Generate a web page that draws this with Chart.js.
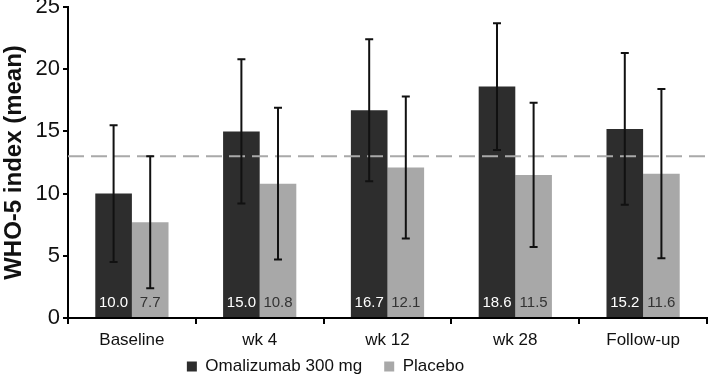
<!DOCTYPE html>
<html>
<head>
<meta charset="utf-8">
<script src="https://cdn.jsdelivr.net/npm/chart.js@4.4.0/dist/chart.umd.min.js"></script>
<style>
  html, body { margin: 0; padding: 0; background: #fff; }
</style>
</head>
<body>
<canvas id="chart" width="709" height="380"></canvas>
<script>
// values
const categories = ['Baseline', 'wk 4', 'wk 12', 'wk 28', 'Follow-up'];
const omalizumab = [10.0, 15.0, 16.7, 18.6, 15.2];
const placebo = [7.7, 10.8, 12.1, 11.5, 11.6];
const omalizumabSD = [5.5, 5.8, 5.7, 5.1, 6.1];
const placeboSD = [5.3, 6.1, 5.7, 5.8, 6.8];
const cutoff = 13;
const yTicks = [0, 5, 10, 15, 20, 25];

const FONT = '"Liberation Sans", Arial, sans-serif';
Chart.defaults.font.family = FONT;

// dashed cut-off line, error bars and value labels
const extras = {
  id: 'extras',
  afterDatasetsDraw(chart) {
    const ctx = chart.ctx;
    const y = chart.scales.y;
    const area = chart.chartArea;

    // reference line
    ctx.save();
    ctx.strokeStyle = '#a9a9a9';
    ctx.lineWidth = 2;
    ctx.setLineDash([16, 7]);
    ctx.beginPath();
    ctx.moveTo(area.left, y.getPixelForValue(cutoff));
    ctx.lineTo(area.right, y.getPixelForValue(cutoff));
    ctx.stroke();
    ctx.restore();

    const errs = [omalizumabSD, placeboSD];
    const labelColors = ['#ffffff', '#333333'];
    chart.data.datasets.forEach((ds, i) => {
      const meta = chart.getDatasetMeta(i);
      meta.data.forEach((bar, j) => {
        const v = ds.data[j];
        const top = y.getPixelForValue(v + errs[i][j]);
        const bot = y.getPixelForValue(v - errs[i][j]);
        ctx.save();
        ctx.strokeStyle = '#111';
        ctx.lineWidth = 2;
        ctx.beginPath();
        ctx.moveTo(bar.x, top); ctx.lineTo(bar.x, bot);
        ctx.moveTo(bar.x - 4, top); ctx.lineTo(bar.x + 4, top);
        ctx.moveTo(bar.x - 4, bot); ctx.lineTo(bar.x + 4, bot);
        ctx.stroke();
        ctx.fillStyle = labelColors[i];
        ctx.font = '15px ' + FONT;
        ctx.textAlign = 'center';
        ctx.textBaseline = 'middle';
        ctx.fillText(v.toFixed(1), bar.x, y.getPixelForValue(0) - 15);
        ctx.restore();
      });
    });
  }
};

// legend sits left of centre and a bit higher in the figure
const legendShift = {
  id: 'legendShift',
  afterLayout(chart) {
    const lg = chart.legend;
    lg.left -= 28; lg.right -= 28;
    lg.top -= 16;
  }
};

new Chart(document.getElementById('chart'), {
  type: 'bar',
  data: {
    labels: categories,
    datasets: [
      { label: 'Omalizumab 300 mg', data: omalizumab, backgroundColor: '#2d2d2d' },
      { label: 'Placebo', data: placebo, backgroundColor: '#a8a8a8' }
    ]
  },
  options: {
    responsive: false,
    animation: false,
    devicePixelRatio: 1,
    layout: { padding: { top: 7, right: 2, left: 0, bottom: 0 } },
    datasets: { bar: { categoryPercentage: 0.573, barPercentage: 1.0, borderWidth: 0 } },
    plugins: {
      tooltip: { enabled: false },
      legend: {
        position: 'bottom',
        maxHeight: 28,
        labels: {
          color: '#111',
          font: { size: 17 },
          boxWidth: 10,
          boxHeight: 10,
          padding: 22
        }
      }
    },
    scales: {
      x: {
        grid: { drawOnChartArea: false, drawTicks: true, tickLength: 6, color: '#000', lineWidth: 2, offset: true },
        border: { color: '#000', width: 2 },
        ticks: { color: '#111', font: { size: 17 }, padding: 6, maxRotation: 0 },
        afterFit(s) { s.height = 34; s.paddingLeft = 0; s.paddingRight = 0; }
      },
      y: {
        min: 0,
        max: 25,
        afterBuildTicks(s) { s.ticks = yTicks.map(v => ({ value: v })); },
        grid: { drawOnChartArea: false, tickLength: 5, color: '#000', lineWidth: 2 },
        border: { color: '#000', width: 2 },
        ticks: { color: '#111', font: { size: 22 }, padding: 3 },
        title: { display: true, text: 'WHO-5 index (mean)', color: '#111', font: { size: 24, weight: 'bold' }, padding: 0 },
        afterFit(s) { s.width = 68; s.paddingTop = 0; s.paddingBottom = 0; }
      }
    }
  },
  plugins: [extras, legendShift]
});
</script>
</body>
</html>
